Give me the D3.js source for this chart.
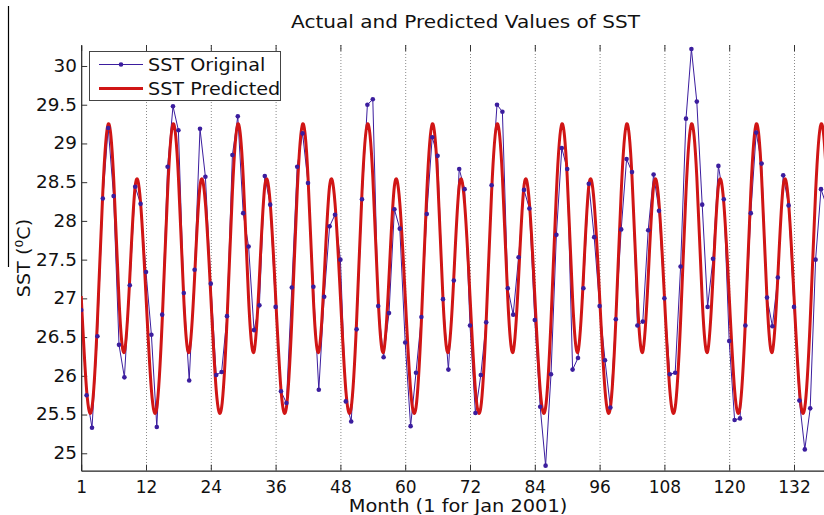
<!DOCTYPE html>
<html>
<head>
<meta charset="utf-8">
<script src="https://cdn.jsdelivr.net/npm/d3@7/dist/d3.min.js"></script>
<style>
  html, body { margin: 0; padding: 0; background: #fff; }
  svg { display: block; }
  text { font-family: "DejaVu Sans", sans-serif; fill: #111; }
</style>
</head>
<body>
<svg id="chart" width="824" height="515"></svg>
<script>
// ---------------- data ----------------
const months = d3.range(0, 139);           // month index, 0 = Jan 2001 (labelled "1")
const sstOriginal = [
  26.85, 25.75, 25.33, 26.51, 28.29, 29.20, 28.32, 26.40, 25.98, 27.17, 28.44, 28.22,
  27.34, 26.53, 25.34, 26.79, 28.70, 29.48, 29.17, 27.07, 25.94, 27.37, 29.19, 28.57,
  27.19, 26.01, 26.05, 26.77, 28.85, 29.35, 28.10, 27.67, 26.59, 26.91, 28.58, 28.21,
  26.89, 25.80, 25.65, 27.14, 28.70, 29.13, 28.49, 27.15, 25.82, 27.02, 27.93, 28.08,
  27.50, 25.67, 25.41, 26.60, 28.28, 29.50, 29.57, 26.90, 26.24, 26.81, 28.15, 27.90,
  26.43, 25.35, 26.04, 26.76, 28.09, 29.08, 28.84, 26.99, 26.08, 27.23, 28.67, 28.41,
  26.65, 25.52, 26.01, 26.69, 28.46, 29.50, 29.41, 27.13, 26.79, 27.53, 28.40, 28.16,
  26.72, 25.60, 24.84, 26.02, 27.82, 28.94, 28.67, 26.08, 26.23, 27.13, 28.48, 27.79,
  26.90, 26.20, 25.59, 26.73, 27.89, 28.80, 28.63, 26.65, 26.70, 27.88, 28.60, 28.13,
  27.00, 26.02, 26.04, 27.41, 29.32, 30.22, 29.54, 28.21, 26.89, 27.51, 28.71, 28.28,
  26.45, 25.43, 25.45, 26.65, 28.10, 29.14, 28.74, 27.01, 26.64, 27.27, 28.59, 28.20,
  26.89, 25.68, 25.05, 25.58, 27.50, 28.41, 28.20
];
const predMonths = d3.range(0, 141);
const sstPredicted = [
  27.03, 25.82, 25.59, 26.71, 28.37, 29.25, 28.57, 26.99, 26.31, 27.27, 28.45, 28.23,
  27.03, 25.82, 25.59, 26.71, 28.37, 29.25, 28.57, 26.99, 26.31, 27.27, 28.45, 28.23,
  27.03, 25.82, 25.59, 26.71, 28.37, 29.25, 28.57, 26.99, 26.31, 27.27, 28.45, 28.23,
  27.03, 25.82, 25.59, 26.71, 28.37, 29.25, 28.57, 26.99, 26.31, 27.27, 28.45, 28.23,
  27.03, 25.82, 25.59, 26.71, 28.37, 29.25, 28.57, 26.99, 26.31, 27.27, 28.45, 28.23,
  27.03, 25.82, 25.59, 26.71, 28.37, 29.25, 28.57, 26.99, 26.31, 27.27, 28.45, 28.23,
  27.03, 25.82, 25.59, 26.71, 28.37, 29.25, 28.57, 26.99, 26.31, 27.27, 28.45, 28.23,
  27.03, 25.82, 25.59, 26.71, 28.37, 29.25, 28.57, 26.99, 26.31, 27.27, 28.45, 28.23,
  27.03, 25.82, 25.59, 26.71, 28.37, 29.25, 28.57, 26.99, 26.31, 27.27, 28.45, 28.23,
  27.03, 25.82, 25.59, 26.71, 28.37, 29.25, 28.57, 26.99, 26.31, 27.27, 28.45, 28.23,
  27.03, 25.82, 25.59, 26.71, 28.37, 29.25, 28.57, 26.99, 26.31, 27.27, 28.45, 28.23,
  27.03, 25.82, 25.59, 26.71, 28.37, 29.25, 28.57, 26.99, 26.31
];
const xTickValues = [0, 12, 24, 36, 48, 60, 72, 84, 96, 108, 120, 132];
const xTickLabels = ["1", "12", "24", "36", "48", "60", "72", "84", "96", "108", "120", "132"];
const yTickValues = [25, 25.5, 26, 26.5, 27, 27.5, 28, 28.5, 29, 29.5, 30];
const yTickLabels = ["25", "25.5", "26", "26.5", "27", "27.5", "28", "28.5", "29", "29.5", "30"];
const seriesNames = ["SST Original", "SST Predicted"];

(function () {
// ---------------- layout ----------------
const svg = d3.select("#chart");
const pLeft = 81.2, pTop = 45, pBottom = 470.7;
const pxPerMonth = 5.4;
const x = d3.scaleLinear().domain([0, 144]).range([pLeft, pLeft + pxPerMonth * 144]);
const y = d3.scaleLinear().domain([24.775, 30.271]).range([pBottom, pTop]);
const blue = "#3b1d9e", red = "#d01515";

// stray frame line at far left (part of the original figure)
svg.append("line").attr("x1", 8.5).attr("x2", 8.5).attr("y1", 6).attr("y2", 267)
  .attr("stroke", "#000").attr("stroke-width", 1.2);

svg.append("defs").append("clipPath").attr("id", "clip")
  .append("rect").attr("x", pLeft).attr("y", pTop).attr("width", x(144) - pLeft).attr("height", pBottom - pTop);

// vertical dotted grid
svg.append("g").selectAll("line").data(xTickValues.filter(d => d > 0)).join("line")
  .attr("x1", d => x(d) + 0.5).attr("x2", d => x(d) + 0.5)
  .attr("y1", pTop).attr("y2", pBottom)
  .attr("stroke", "#8a8a8a").attr("stroke-width", 1).attr("stroke-dasharray", "1,2");

// axes
const gx = svg.append("g").attr("transform", `translate(0,${pBottom})`)
  .call(d3.axisBottom(x).tickValues(xTickValues).tickFormat((d, i) => xTickLabels[i])
    .tickSizeInner(-6).tickSizeOuter(0).tickPadding(10));
const gxt = svg.append("g").attr("transform", `translate(0,${pTop})`)
  .call(d3.axisTop(x).tickValues(xTickValues).tickFormat("").tickSizeInner(-6).tickSizeOuter(0));
gxt.select(".domain").remove();
const gy = svg.append("g").attr("transform", `translate(${pLeft},0)`)
  .call(d3.axisLeft(y).tickValues(yTickValues).tickFormat((d, i) => yTickLabels[i])
    .tickSizeInner(-6).tickSizeOuter(0).tickPadding(4));
[gx, gxt, gy].forEach(g => {
  g.selectAll(".domain").attr("stroke", "#222").attr("stroke-width", 1.2);
  g.selectAll(".tick line").attr("stroke", "#333");
  g.selectAll("text").attr("font-size", 17).attr("fill", "#111")
    .attr("font-family", "DejaVu Sans, sans-serif");
});
gy.selectAll(".tick text").attr("transform", "scale(1.08,1)");

// series
const plot = svg.append("g").attr("clip-path", "url(#clip)");
plot.append("path").datum(months)
  .attr("fill", "none").attr("stroke", blue).attr("stroke-width", 1)
  .attr("d", d3.line().x(i => x(i)).y(i => y(sstOriginal[i])));
plot.append("path").datum(predMonths)
  .attr("fill", "none").attr("stroke", red).attr("stroke-width", 3)
  .attr("d", d3.line().x(i => x(i)).y(i => y(sstPredicted[i])).curve(d3.curveNatural));
plot.append("g").selectAll("circle").data(months).join("circle")
  .attr("cx", i => x(i)).attr("cy", i => y(sstOriginal[i])).attr("r", 2.3).attr("fill", blue);

// legend
const lg = svg.append("g");
lg.append("rect").attr("x", 89.5).attr("y", 51.5).attr("width", 191).attr("height", 49)
  .attr("fill", "#fff").attr("stroke", "#444").attr("stroke-width", 1);
lg.append("line").attr("x1", 99).attr("x2", 143).attr("y1", 64.5).attr("y2", 64.5)
  .attr("stroke", blue).attr("stroke-width", 1);
lg.append("circle").attr("cx", 121).attr("cy", 64.5).attr("r", 2.3).attr("fill", blue);
lg.append("line").attr("x1", 99).attr("x2", 143).attr("y1", 88.5).attr("y2", 88.5)
  .attr("stroke", red).attr("stroke-width", 3);
lg.selectAll("text.lt").data(seriesNames).join("text").attr("class", "lt")
  .attr("transform", (d, i) => `translate(148,${71 + i * 24}) scale(1.13,1)`)
  .attr("font-size", 17).text(d => d);

// title & labels
svg.append("text").attr("transform", "translate(465.5,28) scale(1.18,1)").attr("text-anchor", "middle")
  .attr("font-size", 17).text("Actual and Predicted Values of SST");
svg.append("text").attr("transform", "translate(458,512) scale(1.14,1)").attr("text-anchor", "middle")
  .attr("font-size", 17).text("Month (1 for Jan 2001)");
const yl = svg.append("text").attr("transform", "translate(30,258) rotate(-90) scale(1.13,1)")
  .attr("text-anchor", "middle").attr("font-size", 17);
yl.append("tspan").text("SST (");
yl.append("tspan").attr("font-size", 11).attr("dy", -7).text("0");
yl.append("tspan").attr("dy", 7).text("C)");
})();
</script>
</body>
</html>
